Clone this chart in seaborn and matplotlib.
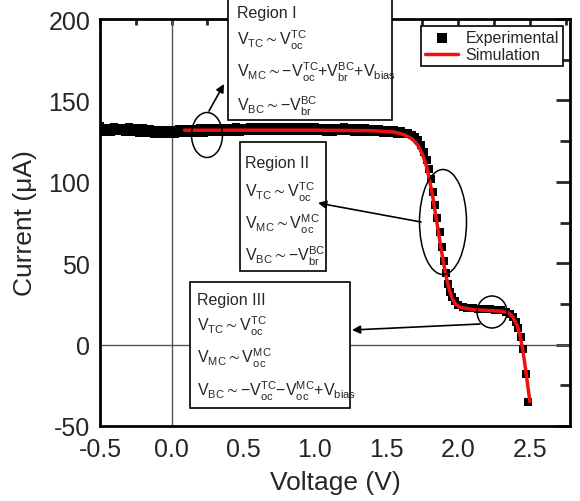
import pandas as pd
import matplotlib.pyplot as plt
import seaborn as sns
from matplotlib.patches import Rectangle, Ellipse, FancyArrowPatch
from matplotlib.ticker import MultipleLocator

exp_v = [-0.500, -0.475, -0.450, -0.425, -0.400, -0.375, -0.350, -0.325, -0.300, -0.275,
         -0.250, -0.225, -0.200, -0.175, -0.150, -0.125, -0.100, -0.075, -0.050, -0.025,
         0.000, 0.025, 0.050, 0.075, 0.100, 0.125, 0.150, 0.175, 0.200, 0.225,
         0.250, 0.275, 0.300, 0.325, 0.350, 0.375, 0.400, 0.425, 0.450, 0.475,
         0.500, 0.525, 0.550, 0.575, 0.600, 0.625, 0.650, 0.675, 0.700, 0.725,
         0.750, 0.775, 0.800, 0.825, 0.850, 0.875, 0.900, 0.925, 0.950, 0.975,
         1.000, 1.025, 1.050, 1.075, 1.100, 1.125, 1.150, 1.175, 1.200, 1.225,
         1.250, 1.275, 1.300, 1.325, 1.350, 1.375, 1.400, 1.425, 1.450, 1.475,
         1.500, 1.525, 1.550, 1.575, 1.600, 1.625, 1.650,
         1.68, 1.70, 1.72, 1.74, 1.76, 1.78,
         1.795, 1.81, 1.825, 1.84, 1.855, 1.87, 1.885, 1.90, 1.915, 1.93,
         1.945, 1.96, 1.98, 2.00, 2.03, 2.06, 2.10, 2.14, 2.18, 2.22,
         2.26, 2.30, 2.33, 2.36, 2.38, 2.40, 2.42, 2.435, 2.45, 2.475, 2.49]
exp_i = [134.0, 130.6, 133.2, 130.5, 133.6, 131.0, 133.3, 130.4, 133.4, 130.8,
         133.0, 130.2, 132.8, 130.0, 132.4, 129.5, 132.0, 129.3, 131.8, 129.4,
         131.9, 129.6, 132.3, 129.8, 132.5, 130.0, 132.7, 130.1, 132.8, 130.2,
         133.0, 130.4, 133.1, 130.5, 133.2, 130.6, 133.3, 130.7, 133.4, 130.8,
         133.3, 130.9, 133.5, 131.0, 133.4, 131.1, 133.6, 131.2, 133.5, 131.1,
         133.7, 131.3, 133.6, 131.2, 133.8, 131.4, 133.7, 131.3, 133.6, 131.2,
         133.5, 131.1, 133.3, 130.8, 133.2, 130.6, 133.3, 130.9, 133.4, 131.0,
         133.2, 130.8, 133.1, 130.6, 132.9, 130.5, 132.7, 130.4, 132.4, 130.2,
         132.1, 129.9, 131.6, 129.5, 131.0, 129.2, 129.8,
         129.0, 127.5, 125.5, 122.5, 118.5, 113.5,
         108.0, 101.5, 94.0, 86.0, 77.5, 69.0, 60.0, 51.5, 44.0, 37.5,
         32.5, 29.0, 26.5, 24.5, 23.2, 22.6, 22.2, 22.0, 21.8, 21.7,
         21.5, 21.0, 20.3, 19.0, 17.0, 14.0, 10.0, 4.5, -2.5, -18.0, -35.0]

# simulated curve
sim_v = [0.09, 0.5, 1.0, 1.4, 1.55, 1.62, 1.68, 1.72, 1.75, 1.78,
         1.80, 1.82, 1.84, 1.86, 1.88, 1.90, 1.92, 1.94, 1.96, 1.98,
         2.01, 2.10, 2.20, 2.30, 2.35, 2.38, 2.41, 2.43, 2.45, 2.47, 2.50]
sim_i = [131.7, 131.7, 131.7, 131.4, 130.6, 129.0, 126.3, 122.2, 117.0, 109.0,
         101.0, 92.0, 81.0, 70.0, 59.0, 49.0, 40.0, 33.0, 28.0, 25.0,
         23.0, 21.5, 21.0, 20.5, 19.5, 17.0, 12.0, 6.0, -3.0, -15.0, -35.0]

exp_df = pd.DataFrame({'v': exp_v, 'i': exp_i})
sim_df = pd.DataFrame({'v': sim_v, 'i': sim_i})

sns.set_style('white')
plt.rcParams['font.family'] = ['Liberation Sans', 'DejaVu Sans']
plt.rcParams['axes.unicode_minus'] = False
plt.rcParams['mathtext.fontset'] = 'custom'
plt.rcParams['mathtext.rm'] = 'Liberation Sans'
plt.rcParams['mathtext.it'] = 'Liberation Sans:italic'
plt.rcParams['mathtext.bf'] = 'Liberation Sans:bold'

W, H = 580, 502
fig = plt.figure(figsize=(W / 100, H / 100), dpi=100)
ax = fig.add_axes([100 / W, 1 - 427 / H, 470 / W, 407 / H])


def P(x, y):
    # pixel position (from top-left) -> figure fraction
    return (x / W, 1 - y / H)


ax.axhline(0, color='#555555', lw=1.0, zorder=1)
ax.axvline(0, color='#555555', lw=1.0, zorder=1)

sns.scatterplot(data=exp_df, x='v', y='i', marker='s', s=27, color='black',
                linewidth=0, ax=ax, label='Experimental', zorder=3)
sns.lineplot(data=sim_df, x='v', y='i', sort=False, color='#f01010', lw=2.5,
             ax=ax, label='Simulation', zorder=4)

ax.set_xlim(-0.5, 2.78)
ax.set_ylim(-50, 200)
ax.xaxis.set_major_locator(MultipleLocator(0.5))
ax.xaxis.set_minor_locator(MultipleLocator(0.25))
ax.yaxis.set_major_locator(MultipleLocator(50))
ax.yaxis.set_minor_locator(MultipleLocator(25))
ax.tick_params(axis='x', which='major', direction='in', length=10, width=2,
               labelsize=18, pad=8)
ax.tick_params(axis='x', which='minor', direction='in', length=5, width=2)
ax.tick_params(axis='y', which='major', direction='in', length=11.5, width=2,
               labelsize=18, pad=7)
ax.tick_params(axis='y', which='minor', direction='in', length=6.5, width=2)
for sp in ax.spines.values():
    sp.set_linewidth(2)
    sp.set_color('black')

top = ax.secondary_xaxis('top')
top.xaxis.set_major_locator(MultipleLocator(0.25))
top.tick_params(direction='in', length=4.5, width=2, labeltop=False)
right = ax.secondary_yaxis('right')
right.yaxis.set_major_locator(MultipleLocator(50))
right.yaxis.set_minor_locator(MultipleLocator(25))
right.tick_params(which='major', direction='in', length=10, width=2, labelright=False)
right.tick_params(which='minor', direction='in', length=7, width=2)

ax.set_xlabel('Voltage (V)', fontsize=19)
ax.set_ylabel('Current (\u03bcA)', fontsize=19)
ax.xaxis.set_label_coords(0.5, -0.108)
ax.yaxis.set_label_coords(-0.135, 0.5)

ax.legend(loc='upper right', bbox_to_anchor=(0.985, 0.983), fontsize=11.5,
          frameon=True, fancybox=False, edgecolor='black', framealpha=1,
          borderpad=0.25, labelspacing=0.15, handlelength=2.1,
          handletextpad=0.45, borderaxespad=0, markerscale=1.3)
ax.get_legend().get_frame().set_linewidth(1.2)

# annotation boxes
boxes = [
    ((228, 0, 392, 121), 237,
     ['Region I',
      r'$\mathregular{V_{TC} \sim V_{oc}^{TC}}$',
      r'$\mathregular{V_{MC} \sim {-}V_{oc}^{TC}{+}V_{br}^{BC}{+}V_{bias}}$',
      r'$\mathregular{V_{BC} \sim {-}V_{br}^{BC}}$'],
     [18, 45, 78, 112]),
    ((240, 143, 326, 272), 245,
     ['Region II',
      r'$\mathregular{V_{TC} \sim V_{oc}^{TC}}$',
      r'$\mathregular{V_{MC} \sim V_{oc}^{MC}}$',
      r'$\mathregular{V_{BC} \sim {-}V_{br}^{BC}}$'],
     [168, 198, 230, 262]),
    ((190, 283, 350, 409), 197,
     ['Region III',
      r'$\mathregular{V_{TC} \sim V_{oc}^{TC}}$',
      r'$\mathregular{V_{MC} \sim V_{oc}^{MC}}$',
      r'$\mathregular{V_{BC} \sim {-}V_{oc}^{TC}{-}V_{oc}^{MC}{+}V_{bias}}$'],
     [305, 332, 363, 397]),
]
for (x0, y0, x1, y1), tx, lines, ys in boxes:
    fig.add_artist(Rectangle(P(x0, y1), (x1 - x0) / W, (y1 - y0) / H,
                             transform=fig.transFigure, facecolor='white',
                             edgecolor='black', lw=1.2, zorder=5))
    for txt, ty in zip(lines, ys):
        fig.text(*P(tx, ty), txt, fontsize=11.5, va='baseline', ha='left',
                 zorder=6)

# ellipses marking the regions
for cx, cy, w, h in [(207, 136, 31, 45), (443, 223, 47, 105), (492, 313, 30, 32)]:
    fig.add_artist(Ellipse(P(cx, cy), w / W, h / H, transform=fig.transFigure,
                           fill=False, edgecolor='black', lw=1.1, zorder=6))

# arrows from ellipses to boxes
for (ax0, ay0), (ax1, ay1) in [((209, 112), (224, 85)),
                               ((421, 223), (318, 204)),
                               ((480, 325), (352, 331))]:
    fig.add_artist(FancyArrowPatch(P(ax0, ay0), P(ax1, ay1),
                                   transform=fig.transFigure, arrowstyle='-|>',
                                   mutation_scale=12, lw=1.2, color='black',
                                   shrinkA=0, shrinkB=0, zorder=7))

plt.savefig('out.png', dpi=100)
